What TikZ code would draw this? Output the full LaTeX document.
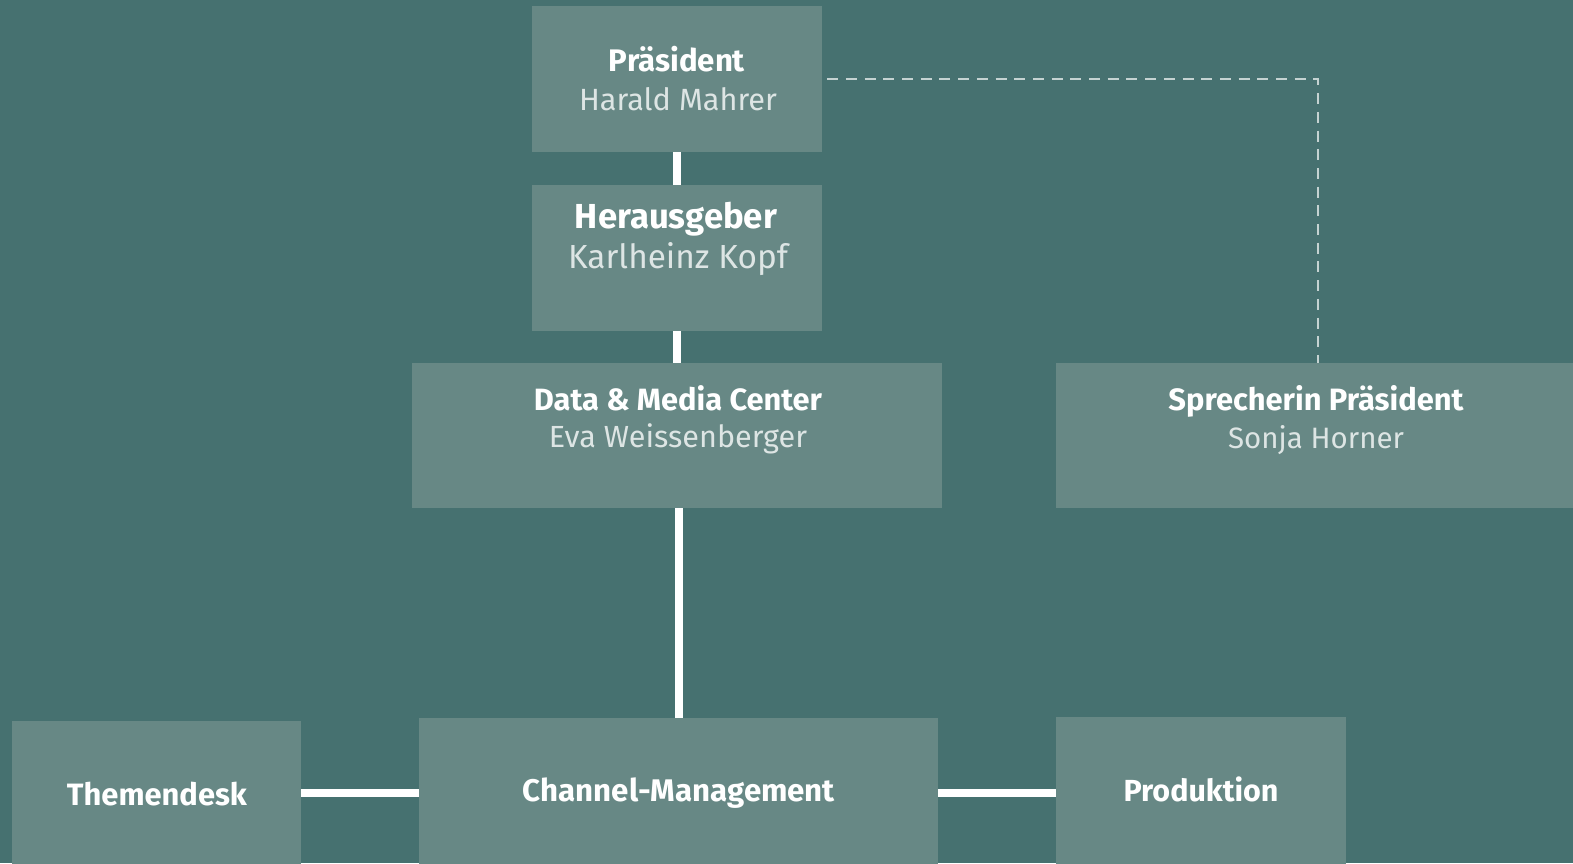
\documentclass[tikz,border=0pt]{standalone}
\usepackage{fontspec}
\setmainfont{Fira Sans}
\usepackage{graphicx}
\definecolor{bgc}{HTML}{467170}
\definecolor{boxc}{HTML}{678885}
\definecolor{namec}{HTML}{DDE5E4}
\definecolor{dashc}{HTML}{C5D3D2}
\newcommand{\fitw}[2]{\resizebox{#1pt}{!}{#2}}
\tikzset{
  box/.style={fill=boxc, draw=none, inner sep=0pt},
  ttl/.style={anchor=base, inner sep=0pt, text=white, font=\bfseries},
  nm/.style={anchor=base, inner sep=0pt, text=namec, font=\mdseries},
  link/.style={draw=white, line width=8pt},
  dlink/.style={draw=dashc, line width=1.5pt, dash pattern=on 11pt off 7.7pt}
}
\begin{document}
\begin{tikzpicture}[x=1pt,y=-1pt]
\fill[bgc] (0,0) rectangle (1573,863);
\useasboundingbox (0,0) rectangle (1573,863);
% boxes
\node[box, minimum width=290pt, minimum height=146pt] (pres) at (677,79) {};
\node[box, minimum width=290pt, minimum height=146pt] (her) at (677,258) {};
\node[box, minimum width=530pt, minimum height=145pt] (dmc) at (677,435.5) {};
\node[box, minimum width=524pt, minimum height=145pt] (spr) at (1318,435.5) {};
\node[box, minimum width=289pt, minimum height=160pt] (them) at (156.5,801) {};
\node[box, minimum width=519pt, minimum height=160pt] (chan) at (678.5,798) {};
\node[box, minimum width=290pt, minimum height=160pt] (prod) at (1201,797) {};
% texts
\node[ttl] (t1) at (677,71) {\fitw{136}{Präsident}};
\node[nm] (n1) at (678,110) {\fitw{198}{Harald Mahrer}};
\node[ttl] (t2) at (676,228) {\fitw{202}{Herausgeber}};
\node[nm] (n2) at (678,268) {\fitw{220}{Karlheinz Kopf}};
\node[ttl] (t3) at (678,410) {\fitw{288}{Data \& Media Center}};
\node[nm] (n3) at (678,447) {\fitw{258}{Eva Weissenberger}};
\node[ttl] (t4) at (1316,410) {\fitw{295}{Sprecherin Präsident}};
\node[nm] (n4) at (1316,448) {\fitw{176}{Sonja Horner}};
\node[ttl] (t5) at (157,805) {\fitw{180}{Themendesk}};
\node[ttl] (t6) at (679,801) {\fitw{312}{Channel-Management}};
\node[ttl] (t7) at (1201,801) {\fitw{155}{Produktion}};
% connectors
\draw[link] (pres.south) -- (her.north);
\draw[link] (her.south) -- (her.south |- dmc.north);
\draw[link] (chan.north) -- (chan.north |- dmc.south);
\draw[link] (them.east |- 0,793) -- (chan.west |- 0,793);
\draw[link] (chan.east |- 0,793) -- (prod.west |- 0,793);
\draw[dlink] ([xshift=5pt]pres.east) -| (spr.north);
\end{tikzpicture}
\end{document}
